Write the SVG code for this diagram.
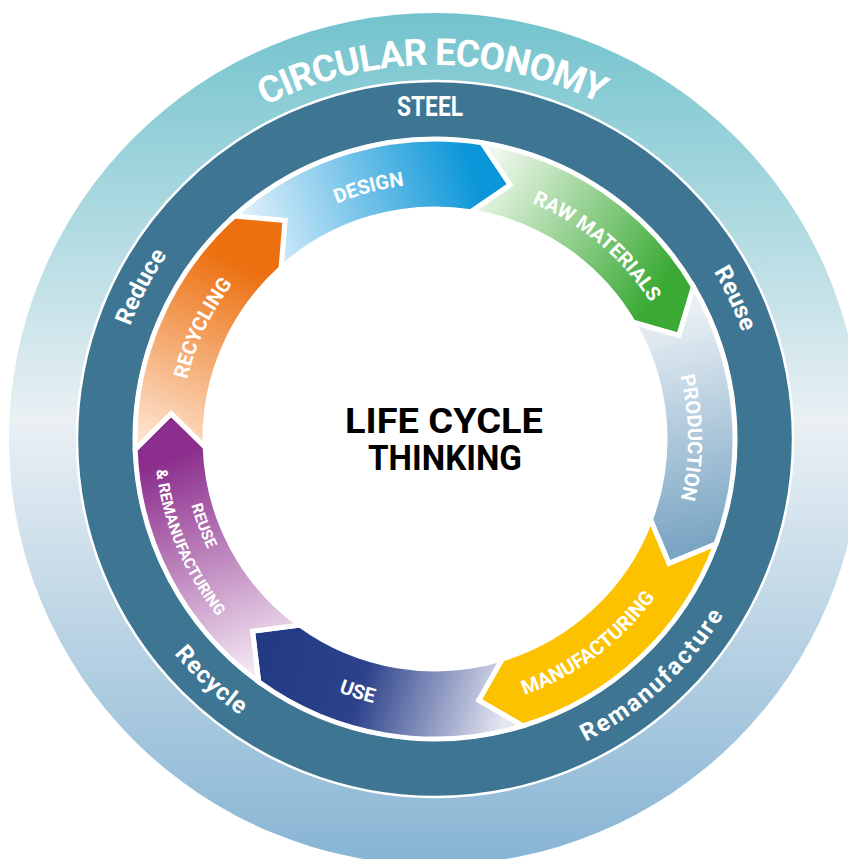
<svg xmlns="http://www.w3.org/2000/svg" width="848" height="859" viewBox="0 0 848 859">
<style>
.lbl{font-family:Roboto,"Liberation Sans",sans-serif;font-weight:bold;fill:#fff;}
.arw{stroke:#fff;stroke-width:5;stroke-linejoin:miter;}
.ring{font-family:Roboto,"Liberation Sans",sans-serif;font-weight:bold;fill:#fff;font-size:24px;}
.alb{font-family:Roboto,"Liberation Sans",sans-serif;font-weight:bold;fill:#fff;font-size:20px;}
</style>
<defs>
<linearGradient id="gOuter" x1="0" y1="13" x2="0" y2="865" gradientUnits="userSpaceOnUse">
<stop offset="0" stop-color="#72c3cd"/><stop offset="0.48" stop-color="#eaf0f4"/><stop offset="1" stop-color="#86b4d3"/>
</linearGradient>
<linearGradient id="gDesign" x1="250" y1="250" x2="500" y2="165" gradientUnits="userSpaceOnUse">
<stop offset="0" stop-color="#e3f2fb"/><stop offset="0.9" stop-color="#0a96d8"/>
</linearGradient>
<linearGradient id="gRaw" x1="485" y1="175" x2="680" y2="300" gradientUnits="userSpaceOnUse">
<stop offset="0" stop-color="#eef7eb"/><stop offset="0.9" stop-color="#3aaa35"/>
</linearGradient>
<linearGradient id="gProd" x1="650" y1="320" x2="700" y2="545" gradientUnits="userSpaceOnUse">
<stop offset="0" stop-color="#e8eff4"/><stop offset="1" stop-color="#7aa5c3"/>
</linearGradient>
<linearGradient id="gUse" x1="505" y1="720" x2="270" y2="650" gradientUnits="userSpaceOnUse">
<stop offset="0" stop-color="#e6e7f1"/><stop offset="0.6" stop-color="#2c428b"/><stop offset="1" stop-color="#233a85"/>
</linearGradient>
<linearGradient id="gReuse" x1="250" y1="675" x2="160" y2="450" gradientUnits="userSpaceOnUse">
<stop offset="0" stop-color="#f5eaf4"/><stop offset="0.95" stop-color="#8c2e8d"/>
</linearGradient>
<linearGradient id="gRecyc" x1="160" y1="445" x2="265" y2="222" gradientUnits="userSpaceOnUse">
<stop offset="0" stop-color="#fde3cf"/><stop offset="0.8" stop-color="#ec7010"/>
</linearGradient>
<path id="cw374" d="M 61 439 A 374 374 0 0 1 809 439"/>
<path id="cw325" d="M 110 439 A 325 325 0 0 1 760 439"/>
<path id="ccw338" d="M 97 439 A 338 338 0 0 0 773 439"/>
<path id="cw255" d="M 180 439 A 255 255 0 0 1 690 439"/>
<path id="cw253" d="M 182 439 A 253 253 0 0 1 688 439"/>
<path id="ccw271" d="M 164 439 A 271 271 0 0 0 706 439"/>
<path id="ccw252" d="M 182.5 439 A 252.5 252.5 0 0 0 687.5 439"/>
<path id="ccw280" d="M 154.5 439 A 280.5 280.5 0 0 0 715.5 439"/>
</defs>

<g id="circular-economy">
<circle cx="435" cy="439" r="426" fill="url(#gOuter)"/>
<text class="lbl" font-size="37" letter-spacing="-1" transform="rotate(-0.5 435 439)"><textPath href="#cw374" startOffset="50%" text-anchor="middle">CIRCULAR ECONOMY</textPath></text>
</g>

<g id="steel">
<circle cx="435" cy="439" r="358" fill="#3d7593" stroke="#fff" stroke-width="2.5"/>
<text class="lbl" x="430" y="116" font-size="27" text-anchor="middle" textLength="66" lengthAdjust="spacingAndGlyphs">STEEL</text>
<text class="ring" transform="rotate(-62.6 435 439)"><textPath href="#cw325" startOffset="50%" text-anchor="middle">Reduce</textPath></text>
<text class="ring" transform="rotate(64.9 435 439)"><textPath href="#cw325" startOffset="50%" text-anchor="middle">Reuse</textPath></text>
<text class="ring" letter-spacing="2" transform="rotate(-42.7 435 439)"><textPath href="#ccw338" startOffset="50%" text-anchor="middle">Remanufacture</textPath></text>
<text class="ring" letter-spacing="1" transform="rotate(42.8 435 439)"><textPath href="#ccw338" startOffset="50%" text-anchor="middle">Recycle</textPath></text>
<circle cx="435" cy="439" r="302" fill="#fff"/>
</g>

<g id="design">
<path class="arw" fill="url(#gDesign)" d="M 234.26 216.06 A 300 300 0 0 1 481.93 142.69 L 510.27 184.91 L 470.98 211.83 A 230 230 0 0 0 281.10 268.08 L 284.90 220.61 Z"/>
<text class="alb" transform="rotate(-14.8 435 439)"><textPath href="#cw255" startOffset="50%" text-anchor="middle">DESIGN</textPath></text>
</g>
<g id="raw-materials">
<path class="arw" fill="url(#gRaw)" d="M 481.93 142.69 A 300 300 0 0 1 693.49 286.74 L 678.93 335.46 L 633.17 322.27 A 230 230 0 0 0 470.98 211.83 L 510.27 184.91 Z"/>
<text class="alb" transform="rotate(40 435 439)"><textPath href="#cw255" startOffset="50%" text-anchor="middle">RAW MATERIALS</textPath></text>
</g>
<g id="production">
<path class="arw" fill="url(#gProd)" d="M 693.49 286.74 A 300 300 0 0 1 716.00 544.06 L 668.98 563.41 L 650.43 519.55 A 230 230 0 0 0 633.17 322.27 L 678.93 335.46 Z"/>
<text class="alb" transform="rotate(89.7 435 439)"><textPath href="#cw253" startOffset="50%" text-anchor="middle">PRODUCTION</textPath></text>
</g>
<g id="manufacturing">
<path class="arw" fill="#fcc200" d="M 716.00 544.06 A 300 300 0 0 1 522.71 725.89 L 478.74 700.37 L 502.25 658.95 A 230 230 0 0 0 650.43 519.55 L 668.98 563.41 Z"/>
<text class="alb" transform="rotate(-36.8 435 439)"><textPath href="#ccw271" startOffset="50%" text-anchor="middle">MANUFACTURING</textPath></text>
</g>
<g id="use">
<path class="arw" fill="url(#gUse)" d="M 522.71 725.89 A 300 300 0 0 1 258.66 681.71 L 252.59 631.22 L 299.81 625.07 A 230 230 0 0 0 502.25 658.95 L 478.74 700.37 Z"/>
<text class="alb" transform="rotate(17 435 439)"><textPath href="#ccw271" startOffset="50%" text-anchor="middle">USE</textPath></text>
</g>
<g id="reuse-remanufacturing">
<path class="arw" fill="url(#gReuse)" d="M 258.66 681.71 A 300 300 0 0 1 135.18 449.47 L 171.22 413.60 L 205.14 447.03 A 230 230 0 0 0 299.81 625.07 L 252.59 631.22 Z"/>
<text class="lbl" font-size="15.5" transform="rotate(69.5 435 439)"><textPath href="#ccw252" startOffset="50%" text-anchor="middle">REUSE</textPath></text>
<text class="lbl" font-size="15.5" transform="rotate(67.2 435 439)"><textPath href="#ccw280" startOffset="50%" text-anchor="middle">&amp; REMANUFACTURING</textPath></text>
</g>
<g id="recycling">
<path class="arw" fill="url(#gRecyc)" d="M 135.18 449.47 A 300 300 0 0 1 234.26 216.06 L 284.90 220.61 L 281.10 268.08 A 230 230 0 0 0 205.14 447.03 L 171.22 413.60 Z"/>
<text class="alb" transform="rotate(-64.5 435 439)"><textPath href="#cw255" startOffset="50%" text-anchor="middle">RECYCLING</textPath></text>
</g>

<g id="life-cycle-thinking">
<text x="444" y="433" font-family="Roboto,'Liberation Sans',sans-serif" font-weight="bold" font-size="35" fill="#000" text-anchor="middle" textLength="198" lengthAdjust="spacingAndGlyphs">LIFE CYCLE</text>
<text x="445" y="470" font-family="Roboto,'Liberation Sans',sans-serif" font-weight="bold" font-size="35" fill="#000" text-anchor="middle" textLength="154" lengthAdjust="spacingAndGlyphs">THINKING</text>
</g>
</svg>
